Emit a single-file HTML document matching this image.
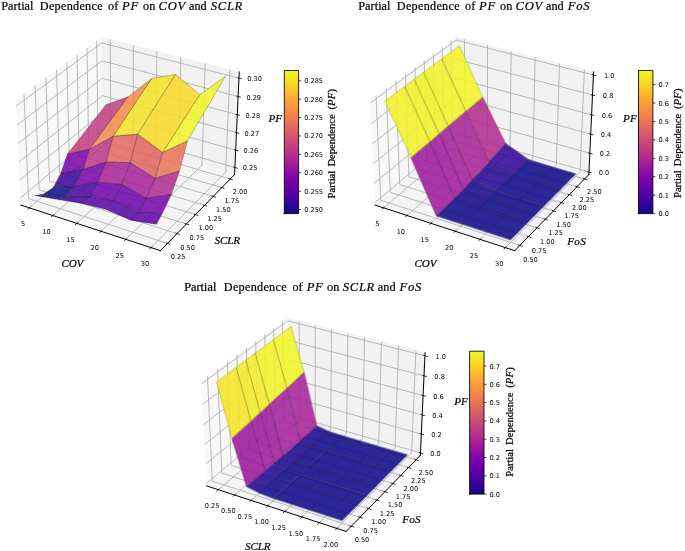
<!DOCTYPE html>
<html><head><meta charset="utf-8"><title>Partial Dependence</title>
<style>html,body{margin:0;padding:0;background:#fff}body{width:685px;height:551px;position:relative;overflow:hidden}</style>
</head><body>
<svg width="685" height="551" viewBox="0 0 1037.87 834.84" style="position:absolute;left:0;top:0">
<defs><linearGradient id="plasma" x1="0" y1="1" x2="0" y2="0"><stop offset="0.00" stop-color="#0d0887"/><stop offset="0.06" stop-color="#310597"/><stop offset="0.12" stop-color="#4c02a1"/><stop offset="0.18" stop-color="#6600a7"/><stop offset="0.25" stop-color="#7e03a8"/><stop offset="0.31" stop-color="#9511a1"/><stop offset="0.37" stop-color="#aa2395"/><stop offset="0.43" stop-color="#bc3587"/><stop offset="0.50" stop-color="#cc4778"/><stop offset="0.56" stop-color="#da5a6a"/><stop offset="0.62" stop-color="#e66c5c"/><stop offset="0.68" stop-color="#f0804e"/><stop offset="0.75" stop-color="#f89540"/><stop offset="0.81" stop-color="#fdac33"/><stop offset="0.87" stop-color="#fdc527"/><stop offset="0.93" stop-color="#f8df25"/><stop offset="1.00" stop-color="#f0f921"/></linearGradient>
<style type="text/css">*{stroke-linejoin: round; stroke-linecap: butt}</style>
</defs>
<g id="figure_1">
<g id="patch_1">
<path d="M 0 834.84 
L 1037.87 834.84 
L 1037.87 0 
L 0 0 
z
" style="fill: #ffffff"/>
</g>
<g id="patch_2">
<path d="M 3.10 403.56 
L 379.62 403.56 
L 379.62 27.04 
L 3.10 27.04 
z
" style="fill: #ffffff"/>
</g>
<g id="pane3d_1">
<g id="patch_3">
<path d="M 31.53 310.72 
L 155.87 206.50 
L 154.14 56.19 
L 23.85 151.27 
" style="fill: #f2f2f2; opacity: 0.5; stroke: #f2f2f2; stroke-linejoin: miter"/>
</g>
</g>
<g id="pane3d_2">
<g id="patch_4">
<path d="M 155.87 206.50 
L 355.39 264.49 
L 362.51 109.00 
L 154.14 56.19 
" style="fill: #e6e6e6; opacity: 0.5; stroke: #e6e6e6; stroke-linejoin: miter"/>
</g>
</g>
<g id="pane3d_3">
<g id="patch_5">
<path d="M 31.53 310.72 
L 243.03 379.79 
L 355.39 264.49 
L 155.87 206.50 
" style="fill: #ececec; opacity: 0.5; stroke: #ececec; stroke-linejoin: miter"/>
</g>
</g>
<g id="grid3d_1">
<g id="Line3DCollection_1">
<path d="M 44.48 314.95 
L 168.14 210.06 
L 166.93 59.43 
" style="fill: none; stroke: #aaaaaa; stroke-width: 1.25"/>
<path d="M 80.01 326.55 
L 201.76 219.83 
L 201.99 68.32 
" style="fill: none; stroke: #aaaaaa; stroke-width: 1.25"/>
<path d="M 116.19 338.37 
L 235.94 229.77 
L 237.66 77.36 
" style="fill: none; stroke: #aaaaaa; stroke-width: 1.25"/>
<path d="M 153.04 350.40 
L 270.71 239.88 
L 273.96 86.56 
" style="fill: none; stroke: #aaaaaa; stroke-width: 1.25"/>
<path d="M 190.57 362.66 
L 306.06 250.15 
L 310.91 95.93 
" style="fill: none; stroke: #aaaaaa; stroke-width: 1.25"/>
<path d="M 228.81 375.15 
L 342.03 260.61 
L 348.53 105.46 
" style="fill: none; stroke: #aaaaaa; stroke-width: 1.25"/>
</g>
</g>
<g id="grid3d_2">
<g id="Line3DCollection_2">
<path d="M 36.27 142.21 
L 43.34 300.82 
L 253.74 368.80 
" style="fill: none; stroke: #aaaaaa; stroke-width: 1.25"/>
<path d="M 53.06 129.95 
L 59.32 287.42 
L 268.23 353.93 
" style="fill: none; stroke: #aaaaaa; stroke-width: 1.25"/>
<path d="M 69.49 117.96 
L 74.98 274.30 
L 282.40 339.39 
" style="fill: none; stroke: #aaaaaa; stroke-width: 1.25"/>
<path d="M 85.56 106.23 
L 90.30 261.45 
L 296.26 325.16 
" style="fill: none; stroke: #aaaaaa; stroke-width: 1.25"/>
<path d="M 101.29 94.76 
L 105.32 248.87 
L 309.83 311.24 
" style="fill: none; stroke: #aaaaaa; stroke-width: 1.25"/>
<path d="M 116.68 83.52 
L 120.03 236.54 
L 323.10 297.62 
" style="fill: none; stroke: #aaaaaa; stroke-width: 1.25"/>
<path d="M 131.76 72.52 
L 134.44 224.46 
L 336.09 284.29 
" style="fill: none; stroke: #aaaaaa; stroke-width: 1.25"/>
<path d="M 146.51 61.75 
L 148.56 212.62 
L 348.81 271.23 
" style="fill: none; stroke: #aaaaaa; stroke-width: 1.25"/>
</g>
</g>
<g id="grid3d_3">
<g id="Line3DCollection_3">
<path d="M 355.87 253.83 
L 155.75 196.17 
L 31.00 299.80 
" style="fill: none; stroke: #aaaaaa; stroke-width: 1.25"/>
<path d="M 357.08 227.54 
L 155.46 170.72 
L 29.71 272.88 
" style="fill: none; stroke: #aaaaaa; stroke-width: 1.25"/>
<path d="M 358.30 200.86 
L 155.16 144.91 
L 28.39 245.53 
" style="fill: none; stroke: #aaaaaa; stroke-width: 1.25"/>
<path d="M 359.54 173.77 
L 154.86 118.72 
L 27.05 217.75 
" style="fill: none; stroke: #aaaaaa; stroke-width: 1.25"/>
<path d="M 360.80 146.26 
L 154.55 92.15 
L 25.69 189.52 
" style="fill: none; stroke: #aaaaaa; stroke-width: 1.25"/>
<path d="M 362.08 118.32 
L 154.24 65.18 
L 24.31 160.84 
" style="fill: none; stroke: #aaaaaa; stroke-width: 1.25"/>
</g>
</g>
<g id="axis3d_1">
<g id="line2d_1">
<path d="M 31.53 310.72 
L 243.03 379.79 
" style="fill: none; stroke: #000000; stroke-width: 1.5; stroke-linecap: square"/>
</g>
<g id="xtick_1">
<g id="line2d_2">
<path d="M 45.56 314.04 
L 42.32 316.78 
" style="fill: none; stroke: #000000; stroke-width: 1.2; stroke-linecap: square"/>
</g>
<g id="text_1">
<text style="font-size: 10px; font-family: 'DejaVu Sans', sans-serif; text-anchor: middle" x="35.06" y="342.21">5</text>
</g>
</g>
<g id="xtick_2">
<g id="line2d_3">
<path d="M 81.07 325.62 
L 77.88 328.42 
" style="fill: none; stroke: #000000; stroke-width: 1.2; stroke-linecap: square"/>
</g>
<g id="text_2">
<text style="font-size: 10px; font-family: 'DejaVu Sans', sans-serif; text-anchor: middle" x="70.62" y="354.03">10</text>
</g>
</g>
<g id="xtick_3">
<g id="line2d_4">
<path d="M 117.23 337.42 
L 114.10 340.27 
" style="fill: none; stroke: #000000; stroke-width: 1.2; stroke-linecap: square"/>
</g>
<g id="text_3">
<text style="font-size: 10px; font-family: 'DejaVu Sans', sans-serif; text-anchor: middle" x="106.83" y="366.07">15</text>
</g>
</g>
<g id="xtick_4">
<g id="line2d_5">
<path d="M 154.06 349.44 
L 150.98 352.34 
" style="fill: none; stroke: #000000; stroke-width: 1.2; stroke-linecap: square"/>
</g>
<g id="text_4">
<text style="font-size: 10px; font-family: 'DejaVu Sans', sans-serif; text-anchor: middle" x="143.72" y="378.33">20</text>
</g>
</g>
<g id="xtick_5">
<g id="line2d_6">
<path d="M 191.58 361.68 
L 188.55 364.63 
" style="fill: none; stroke: #000000; stroke-width: 1.2; stroke-linecap: square"/>
</g>
<g id="text_5">
<text style="font-size: 10px; font-family: 'DejaVu Sans', sans-serif; text-anchor: middle" x="181.29" y="390.82">25</text>
</g>
</g>
<g id="xtick_6">
<g id="line2d_7">
<path d="M 229.80 374.15 
L 226.83 377.16 
" style="fill: none; stroke: #000000; stroke-width: 1.2; stroke-linecap: square"/>
</g>
<g id="text_6">
<text style="font-size: 10px; font-family: 'DejaVu Sans', sans-serif; text-anchor: middle" x="219.58" y="403.55">30</text>
</g>
</g>
</g>
<g id="axis3d_2">
<g id="line2d_8">
<path d="M 355.39 264.49 
L 243.03 379.79 
" style="fill: none; stroke: #000000; stroke-width: 1.5; stroke-linecap: square"/>
</g>
<g id="xtick_7">
<g id="line2d_9">
<path d="M 251.97 368.23 
L 257.29 369.95 
" style="fill: none; stroke: #000000; stroke-width: 1.2; stroke-linecap: square"/>
</g>
<g id="text_7">
<text style="font-size: 10px; font-family: 'DejaVu Sans', sans-serif; text-anchor: middle" x="269.83" y="393.17">0.25</text>
</g>
</g>
<g id="xtick_8">
<g id="line2d_10">
<path d="M 266.47 353.37 
L 271.75 355.05 
" style="fill: none; stroke: #000000; stroke-width: 1.2; stroke-linecap: square"/>
</g>
<g id="text_8">
<text style="font-size: 10px; font-family: 'DejaVu Sans', sans-serif; text-anchor: middle" x="284.15" y="378.10">0.50</text>
</g>
</g>
<g id="xtick_9">
<g id="line2d_11">
<path d="M 280.66 338.84 
L 285.90 340.49 
" style="fill: none; stroke: #000000; stroke-width: 1.2; stroke-linecap: square"/>
</g>
<g id="text_9">
<text style="font-size: 10px; font-family: 'DejaVu Sans', sans-serif; text-anchor: middle" x="298.15" y="363.37">0.75</text>
</g>
</g>
<g id="xtick_10">
<g id="line2d_12">
<path d="M 294.53 324.63 
L 299.73 326.24 
" style="fill: none; stroke: #000000; stroke-width: 1.2; stroke-linecap: square"/>
</g>
<g id="text_10">
<text style="font-size: 10px; font-family: 'DejaVu Sans', sans-serif; text-anchor: middle" x="311.85" y="348.96">1.00</text>
</g>
</g>
<g id="xtick_11">
<g id="line2d_13">
<path d="M 308.11 310.72 
L 313.27 312.29 
" style="fill: none; stroke: #000000; stroke-width: 1.2; stroke-linecap: square"/>
</g>
<g id="text_11">
<text style="font-size: 10px; font-family: 'DejaVu Sans', sans-serif; text-anchor: middle" x="325.25" y="334.86">1.25</text>
</g>
</g>
<g id="xtick_12">
<g id="line2d_14">
<path d="M 321.39 297.11 
L 326.52 298.65 
" style="fill: none; stroke: #000000; stroke-width: 1.2; stroke-linecap: square"/>
</g>
<g id="text_12">
<text style="font-size: 10px; font-family: 'DejaVu Sans', sans-serif; text-anchor: middle" x="338.37" y="321.06">1.50</text>
</g>
</g>
<g id="xtick_13">
<g id="line2d_15">
<path d="M 334.40 283.79 
L 339.48 285.30 
" style="fill: none; stroke: #000000; stroke-width: 1.2; stroke-linecap: square"/>
</g>
<g id="text_13">
<text style="font-size: 10px; font-family: 'DejaVu Sans', sans-serif; text-anchor: middle" x="351.21" y="307.55">1.75</text>
</g>
</g>
<g id="xtick_14">
<g id="line2d_16">
<path d="M 347.13 270.74 
L 352.18 272.22 
" style="fill: none; stroke: #000000; stroke-width: 1.2; stroke-linecap: square"/>
</g>
<g id="text_14">
<text style="font-size: 10px; font-family: 'DejaVu Sans', sans-serif; text-anchor: middle" x="363.77" y="294.32">2.00</text>
</g>
</g>
</g>
<g id="axis3d_3">
<g id="line2d_17">
<path d="M 355.39 264.49 
L 362.51 109.00 
" style="fill: none; stroke: #000000; stroke-width: 1.5; stroke-linecap: square"/>
</g>
<g id="xtick_15">
<g id="line2d_18">
<path d="M 354.19 253.34 
L 359.24 254.80 
" style="fill: none; stroke: #000000; stroke-width: 1.2; stroke-linecap: square"/>
</g>
<g id="text_15">
<text style="font-size: 10px; font-family: 'DejaVu Sans', sans-serif; text-anchor: middle" x="378.80" y="258.18">0.25</text>
</g>
</g>
<g id="xtick_16">
<g id="line2d_19">
<path d="M 355.38 227.07 
L 360.47 228.50 
" style="fill: none; stroke: #000000; stroke-width: 1.2; stroke-linecap: square"/>
</g>
<g id="text_16">
<text style="font-size: 10px; font-family: 'DejaVu Sans', sans-serif; text-anchor: middle" x="380.17" y="231.94">0.26</text>
</g>
</g>
<g id="xtick_17">
<g id="line2d_20">
<path d="M 356.59 200.39 
L 361.72 201.80 
" style="fill: none; stroke: #000000; stroke-width: 1.2; stroke-linecap: square"/>
</g>
<g id="text_17">
<text style="font-size: 10px; font-family: 'DejaVu Sans', sans-serif; text-anchor: middle" x="381.57" y="205.31">0.27</text>
</g>
</g>
<g id="xtick_18">
<g id="line2d_21">
<path d="M 357.82 173.31 
L 362.98 174.70 
" style="fill: none; stroke: #000000; stroke-width: 1.2; stroke-linecap: square"/>
</g>
<g id="text_18">
<text style="font-size: 10px; font-family: 'DejaVu Sans', sans-serif; text-anchor: middle" x="382.98" y="178.27">0.28</text>
</g>
</g>
<g id="xtick_19">
<g id="line2d_22">
<path d="M 359.07 145.80 
L 364.27 147.17 
" style="fill: none; stroke: #000000; stroke-width: 1.2; stroke-linecap: square"/>
</g>
<g id="text_19">
<text style="font-size: 10px; font-family: 'DejaVu Sans', sans-serif; text-anchor: middle" x="384.42" y="150.81">0.29</text>
</g>
</g>
<g id="xtick_20">
<g id="line2d_23">
<path d="M 360.33 117.87 
L 365.58 119.21 
" style="fill: none; stroke: #000000; stroke-width: 1.2; stroke-linecap: square"/>
</g>
<g id="text_20">
<text style="font-size: 10px; font-family: 'DejaVu Sans', sans-serif; text-anchor: middle" x="385.88" y="122.92">0.30</text>
</g>
</g>
</g>
<g id="axes_1">
<g id="Poly3DCollection_1">
<path d="M 102.15 233.45 
L 135.61 226.00 
L 194.15 146.52 
L 160.56 158.80 
z
" clip-path="url(#p76bec759b3)" style="fill: #c23c81; fill-opacity: 0.85; stroke: #000000; stroke-opacity: 0.7; stroke-width: 0.5"/>
<path d="M 135.61 226.00 
L 171.72 206.57 
L 230.37 118.52 
L 194.15 146.52 
z
" clip-path="url(#p76bec759b3)" style="fill: #f58b47; fill-opacity: 0.85; stroke: #000000; stroke-opacity: 0.7; stroke-width: 0.5"/>
<path d="M 92.22 262.39 
L 125.77 256.93 
L 135.61 226.00 
L 102.15 233.45 
z
" clip-path="url(#p76bec759b3)" style="fill: #7501a8; fill-opacity: 0.85; stroke: #000000; stroke-opacity: 0.7; stroke-width: 0.5"/>
<path d="M 80.60 284.28 
L 112.43 282.51 
L 125.77 256.93 
L 92.22 262.39 
z
" clip-path="url(#p76bec759b3)" style="fill: #350498; fill-opacity: 0.85; stroke: #000000; stroke-opacity: 0.7; stroke-width: 0.5"/>
<path d="M 65.57 294.18 
L 97.36 298.28 
L 112.43 282.51 
L 80.60 284.28 
z
" clip-path="url(#p76bec759b3)" style="fill: #0d0887; fill-opacity: 0.85; stroke: #000000; stroke-opacity: 0.7; stroke-width: 0.5"/>
<path d="M 171.72 206.57 
L 208.63 203.37 
L 265.95 112.67 
L 230.37 118.52 
z
" clip-path="url(#p76bec759b3)" style="fill: #f7e225; fill-opacity: 0.85; stroke: #000000; stroke-opacity: 0.7; stroke-width: 0.5"/>
<path d="M 125.77 256.93 
L 160.74 245.54 
L 171.72 206.57 
L 135.61 226.00 
z
" clip-path="url(#p76bec759b3)" style="fill: #bb3488; fill-opacity: 0.85; stroke: #000000; stroke-opacity: 0.7; stroke-width: 0.5"/>
<path d="M 112.43 282.51 
L 148.40 276.10 
L 160.74 245.54 
L 125.77 256.93 
z
" clip-path="url(#p76bec759b3)" style="fill: #7701a8; fill-opacity: 0.85; stroke: #000000; stroke-opacity: 0.7; stroke-width: 0.5"/>
<path d="M 52.65 296.06 
L 88.16 302.41 
L 97.36 298.28 
L 65.57 294.18 
z
" clip-path="url(#p76bec759b3)" style="fill: #19068c; fill-opacity: 0.85; stroke: #000000; stroke-opacity: 0.7; stroke-width: 0.5"/>
<path d="M 208.63 203.37 
L 246.30 231.23 
L 302.73 143.45 
L 265.95 112.67 
z
" clip-path="url(#p76bec759b3)" style="fill: #fada24; fill-opacity: 0.85; stroke: #000000; stroke-opacity: 0.7; stroke-width: 0.5"/>
<path d="M 97.36 298.28 
L 137.08 298.34 
L 148.40 276.10 
L 112.43 282.51 
z
" clip-path="url(#p76bec759b3)" style="fill: #44039e; fill-opacity: 0.85; stroke: #000000; stroke-opacity: 0.7; stroke-width: 0.5"/>
<path d="M 160.74 245.54 
L 197.16 246.32 
L 208.63 203.37 
L 171.72 206.57 
z
" clip-path="url(#p76bec759b3)" style="fill: #e4695e; fill-opacity: 0.85; stroke: #000000; stroke-opacity: 0.7; stroke-width: 0.5"/>
<path d="M 88.16 302.41 
L 124.27 308.30 
L 137.08 298.34 
L 97.36 298.28 
z
" clip-path="url(#p76bec759b3)" style="fill: #3e049c; fill-opacity: 0.85; stroke: #000000; stroke-opacity: 0.7; stroke-width: 0.5"/>
<path d="M 148.40 276.10 
L 184.64 279.66 
L 197.16 246.32 
L 160.74 245.54 
z
" clip-path="url(#p76bec759b3)" style="fill: #a72197; fill-opacity: 0.85; stroke: #000000; stroke-opacity: 0.7; stroke-width: 0.5"/>
<path d="M 246.30 231.23 
L 283.98 213.54 
L 341.56 115.56 
L 302.73 143.45 
z
" clip-path="url(#p76bec759b3)" style="fill: #f1f525; fill-opacity: 0.85; stroke: #000000; stroke-opacity: 0.7; stroke-width: 0.5"/>
<path d="M 137.08 298.34 
L 171.93 304.43 
L 184.64 279.66 
L 148.40 276.10 
z
" clip-path="url(#p76bec759b3)" style="fill: #6e00a8; fill-opacity: 0.85; stroke: #000000; stroke-opacity: 0.7; stroke-width: 0.5"/>
<path d="M 197.16 246.32 
L 235.12 270.33 
L 246.30 231.23 
L 208.63 203.37 
z
" clip-path="url(#p76bec759b3)" style="fill: #e16462; fill-opacity: 0.85; stroke: #000000; stroke-opacity: 0.7; stroke-width: 0.5"/>
<path d="M 184.64 279.66 
L 221.80 300.38 
L 235.12 270.33 
L 197.16 246.32 
z
" clip-path="url(#p76bec759b3)" style="fill: #a51f99; fill-opacity: 0.85; stroke: #000000; stroke-opacity: 0.7; stroke-width: 0.5"/>
<path d="M 124.27 308.30 
L 159.86 317.18 
L 171.93 304.43 
L 137.08 298.34 
z
" clip-path="url(#p76bec759b3)" style="fill: #5601a4; fill-opacity: 0.85; stroke: #000000; stroke-opacity: 0.7; stroke-width: 0.5"/>
<path d="M 171.93 304.43 
L 209.72 322.58 
L 221.80 300.38 
L 184.64 279.66 
z
" clip-path="url(#p76bec759b3)" style="fill: #6c00a8; fill-opacity: 0.85; stroke: #000000; stroke-opacity: 0.7; stroke-width: 0.5"/>
<path d="M 235.12 270.33 
L 272.05 259.05 
L 283.98 213.54 
L 246.30 231.23 
z
" clip-path="url(#p76bec759b3)" style="fill: #ea7457; fill-opacity: 0.85; stroke: #000000; stroke-opacity: 0.7; stroke-width: 0.5"/>
<path d="M 221.80 300.38 
L 259.71 294.61 
L 272.05 259.05 
L 235.12 270.33 
z
" clip-path="url(#p76bec759b3)" style="fill: #b12a90; fill-opacity: 0.85; stroke: #000000; stroke-opacity: 0.7; stroke-width: 0.5"/>
<path d="M 159.86 317.18 
L 199.10 334.05 
L 209.72 322.58 
L 171.93 304.43 
z
" clip-path="url(#p76bec759b3)" style="fill: #5302a3; fill-opacity: 0.85; stroke: #000000; stroke-opacity: 0.7; stroke-width: 0.5"/>
<path d="M 209.72 322.58 
L 245.79 323.45 
L 259.71 294.61 
L 221.80 300.38 
z
" clip-path="url(#p76bec759b3)" style="fill: #7701a8; fill-opacity: 0.85; stroke: #000000; stroke-opacity: 0.7; stroke-width: 0.5"/>
<path d="M 199.10 334.05 
L 236.97 339.74 
L 245.79 323.45 
L 209.72 322.58 
z
" clip-path="url(#p76bec759b3)" style="fill: #5901a5; fill-opacity: 0.85; stroke: #000000; stroke-opacity: 0.7; stroke-width: 0.5"/>
</g>
</g>
<g id="axes_2">
<g id="patch_6">
<path d="M 430.75 323.63 
L 452.42 323.63 
L 452.42 106.81 
L 430.75 106.81 
z
" style="fill: #ffffff"/>
</g>
<rect x="430.75" y="106.81" width="21.66" height="216.81" fill="url(#plasma)"/>
<g id="matplotlib.axis_1"/>
<g id="matplotlib.axis_2">
<g id="ytick_1">
<g id="line2d_24">
<defs>
<path id="mfd3b07771e" d="M 0 0 
L 3.8 0 
" style="stroke: #000000; stroke-width: 1.1"/>
</defs>
<g>
<use href="#mfd3b07771e" x="452.42" y="317.50" style="stroke: #000000; stroke-width: 1.1"/>
</g>
</g>
<g id="text_21">
<text style="font-size: 10px; font-family: 'DejaVu Sans', sans-serif; text-anchor: start" x="460.82" y="321.30">0.250</text>
</g>
</g>
<g id="ytick_2">
<g id="line2d_25">
<g>
<use href="#mfd3b07771e" x="452.42" y="289.63" style="stroke: #000000; stroke-width: 1.1"/>
</g>
</g>
<g id="text_22">
<text style="font-size: 10px; font-family: 'DejaVu Sans', sans-serif; text-anchor: start" x="460.82" y="293.43">0.255</text>
</g>
</g>
<g id="ytick_3">
<g id="line2d_26">
<g>
<use href="#mfd3b07771e" x="452.42" y="261.76" style="stroke: #000000; stroke-width: 1.1"/>
</g>
</g>
<g id="text_23">
<text style="font-size: 10px; font-family: 'DejaVu Sans', sans-serif; text-anchor: start" x="460.82" y="265.56">0.260</text>
</g>
</g>
<g id="ytick_4">
<g id="line2d_27">
<g>
<use href="#mfd3b07771e" x="452.42" y="233.89" style="stroke: #000000; stroke-width: 1.1"/>
</g>
</g>
<g id="text_24">
<text style="font-size: 10px; font-family: 'DejaVu Sans', sans-serif; text-anchor: start" x="460.82" y="237.69">0.265</text>
</g>
</g>
<g id="ytick_5">
<g id="line2d_28">
<g>
<use href="#mfd3b07771e" x="452.42" y="206.03" style="stroke: #000000; stroke-width: 1.1"/>
</g>
</g>
<g id="text_25">
<text style="font-size: 10px; font-family: 'DejaVu Sans', sans-serif; text-anchor: start" x="460.82" y="209.82">0.270</text>
</g>
</g>
<g id="ytick_6">
<g id="line2d_29">
<g>
<use href="#mfd3b07771e" x="452.42" y="178.16" style="stroke: #000000; stroke-width: 1.1"/>
</g>
</g>
<g id="text_26">
<text style="font-size: 10px; font-family: 'DejaVu Sans', sans-serif; text-anchor: start" x="460.82" y="181.96">0.275</text>
</g>
</g>
<g id="ytick_7">
<g id="line2d_30">
<g>
<use href="#mfd3b07771e" x="452.42" y="150.29" style="stroke: #000000; stroke-width: 1.1"/>
</g>
</g>
<g id="text_27">
<text style="font-size: 10px; font-family: 'DejaVu Sans', sans-serif; text-anchor: start" x="460.82" y="154.09">0.280</text>
</g>
</g>
<g id="ytick_8">
<g id="line2d_31">
<g>
<use href="#mfd3b07771e" x="452.42" y="122.42" style="stroke: #000000; stroke-width: 1.1"/>
</g>
</g>
<g id="text_28">
<text style="font-size: 10px; font-family: 'DejaVu Sans', sans-serif; text-anchor: start" x="460.82" y="126.22">0.285</text>
</g>
</g>
</g>
<g id="LineCollection_1"/>
<g id="patch_7">
<path d="M 430.75 323.63 
L 441.59 323.63 
L 452.42 323.63 
L 452.42 106.81 
L 441.59 106.81 
L 430.75 106.81 
L 430.75 323.63 
z
" style="fill: none; stroke: #000000; stroke-width: 1.3; stroke-linejoin: miter; stroke-linecap: square"/>
</g>
</g>
<g id="patch_8">
<path d="M 539.92 403.56 
L 916.43 403.56 
L 916.43 27.04 
L 539.92 27.04 
z
" style="fill: #ffffff"/>
</g>
<g id="pane3d_4">
<g id="patch_9">
<path d="M 568.35 310.72 
L 692.69 206.50 
L 690.96 56.19 
L 560.67 151.27 
" style="fill: #f2f2f2; opacity: 0.5; stroke: #f2f2f2; stroke-linejoin: miter"/>
</g>
</g>
<g id="pane3d_5">
<g id="patch_10">
<path d="M 692.69 206.50 
L 892.20 264.49 
L 899.32 109.00 
L 690.96 56.19 
" style="fill: #e6e6e6; opacity: 0.5; stroke: #e6e6e6; stroke-linejoin: miter"/>
</g>
</g>
<g id="pane3d_6">
<g id="patch_11">
<path d="M 568.35 310.72 
L 779.85 379.79 
L 892.20 264.49 
L 692.69 206.50 
" style="fill: #ececec; opacity: 0.5; stroke: #ececec; stroke-linejoin: miter"/>
</g>
</g>
<g id="grid3d_4">
<g id="Line3DCollection_4">
<path d="M 581.16 314.90 
L 704.82 210.02 
L 703.61 59.40 
" style="fill: none; stroke: #aaaaaa; stroke-width: 1.25"/>
<path d="M 616.73 326.52 
L 738.48 219.81 
L 738.71 68.29 
" style="fill: none; stroke: #aaaaaa; stroke-width: 1.25"/>
<path d="M 652.95 338.35 
L 772.71 229.76 
L 774.42 77.35 
" style="fill: none; stroke: #aaaaaa; stroke-width: 1.25"/>
<path d="M 689.84 350.40 
L 807.51 239.87 
L 810.77 86.56 
" style="fill: none; stroke: #aaaaaa; stroke-width: 1.25"/>
<path d="M 727.42 362.67 
L 842.91 250.16 
L 847.76 95.94 
" style="fill: none; stroke: #aaaaaa; stroke-width: 1.25"/>
<path d="M 765.71 375.18 
L 878.92 260.63 
L 885.42 105.48 
" style="fill: none; stroke: #aaaaaa; stroke-width: 1.25"/>
</g>
</g>
<g id="grid3d_5">
<g id="Line3DCollection_5">
<path d="M 569.68 144.69 
L 576.92 303.54 
L 787.62 371.82 
" style="fill: none; stroke: #aaaaaa; stroke-width: 1.25"/>
<path d="M 584.88 133.60 
L 591.38 291.41 
L 800.74 358.36 
" style="fill: none; stroke: #aaaaaa; stroke-width: 1.25"/>
<path d="M 599.78 122.73 
L 605.57 279.52 
L 813.59 345.17 
" style="fill: none; stroke: #aaaaaa; stroke-width: 1.25"/>
<path d="M 614.39 112.07 
L 619.50 267.84 
L 826.19 332.24 
" style="fill: none; stroke: #aaaaaa; stroke-width: 1.25"/>
<path d="M 628.71 101.61 
L 633.17 256.39 
L 838.54 319.56 
" style="fill: none; stroke: #aaaaaa; stroke-width: 1.25"/>
<path d="M 642.76 91.36 
L 646.58 245.14 
L 850.66 307.13 
" style="fill: none; stroke: #aaaaaa; stroke-width: 1.25"/>
<path d="M 656.54 81.30 
L 659.75 234.10 
L 862.54 294.93 
" style="fill: none; stroke: #aaaaaa; stroke-width: 1.25"/>
<path d="M 670.06 71.44 
L 672.68 223.26 
L 874.19 282.97 
" style="fill: none; stroke: #aaaaaa; stroke-width: 1.25"/>
<path d="M 683.33 61.75 
L 685.38 212.62 
L 885.63 271.23 
" style="fill: none; stroke: #aaaaaa; stroke-width: 1.25"/>
</g>
</g>
<g id="grid3d_6">
<g id="Line3DCollection_6">
<path d="M 892.38 260.68 
L 692.64 202.81 
L 568.16 306.82 
" style="fill: none; stroke: #aaaaaa; stroke-width: 1.25"/>
<path d="M 893.68 232.23 
L 692.33 175.26 
L 566.76 277.68 
" style="fill: none; stroke: #aaaaaa; stroke-width: 1.25"/>
<path d="M 895.01 203.31 
L 692.01 147.28 
L 565.33 248.04 
" style="fill: none; stroke: #aaaaaa; stroke-width: 1.25"/>
<path d="M 896.35 173.91 
L 691.68 118.86 
L 563.88 217.89 
" style="fill: none; stroke: #aaaaaa; stroke-width: 1.25"/>
<path d="M 897.72 144.01 
L 691.35 89.98 
L 562.40 187.22 
" style="fill: none; stroke: #aaaaaa; stroke-width: 1.25"/>
<path d="M 899.11 113.61 
L 691.01 60.63 
L 560.90 156.00 
" style="fill: none; stroke: #aaaaaa; stroke-width: 1.25"/>
</g>
</g>
<g id="axis3d_4">
<g id="line2d_32">
<path d="M 568.35 310.72 
L 779.85 379.79 
" style="fill: none; stroke: #000000; stroke-width: 1.5; stroke-linecap: square"/>
</g>
<g id="xtick_21">
<g id="line2d_33">
<path d="M 582.24 313.99 
L 579.00 316.73 
" style="fill: none; stroke: #000000; stroke-width: 1.2; stroke-linecap: square"/>
</g>
<g id="text_29">
<text style="font-size: 10px; font-family: 'DejaVu Sans', sans-serif; text-anchor: middle" x="571.73" y="342.17">5</text>
</g>
</g>
<g id="xtick_22">
<g id="line2d_34">
<path d="M 617.79 325.59 
L 614.60 328.38 
" style="fill: none; stroke: #000000; stroke-width: 1.2; stroke-linecap: square"/>
</g>
<g id="text_30">
<text style="font-size: 10px; font-family: 'DejaVu Sans', sans-serif; text-anchor: middle" x="607.34" y="354.00">10</text>
</g>
</g>
<g id="xtick_23">
<g id="line2d_35">
<path d="M 653.99 337.40 
L 650.86 340.25 
" style="fill: none; stroke: #000000; stroke-width: 1.2; stroke-linecap: square"/>
</g>
<g id="text_31">
<text style="font-size: 10px; font-family: 'DejaVu Sans', sans-serif; text-anchor: middle" x="643.59" y="366.05">15</text>
</g>
</g>
<g id="xtick_24">
<g id="line2d_36">
<path d="M 690.87 349.43 
L 687.78 352.33 
" style="fill: none; stroke: #000000; stroke-width: 1.2; stroke-linecap: square"/>
</g>
<g id="text_32">
<text style="font-size: 10px; font-family: 'DejaVu Sans', sans-serif; text-anchor: middle" x="680.52" y="378.33">20</text>
</g>
</g>
<g id="xtick_25">
<g id="line2d_37">
<path d="M 728.43 361.69 
L 725.40 364.64 
" style="fill: none; stroke: #000000; stroke-width: 1.2; stroke-linecap: square"/>
</g>
<g id="text_33">
<text style="font-size: 10px; font-family: 'DejaVu Sans', sans-serif; text-anchor: middle" x="718.14" y="390.83">25</text>
</g>
</g>
<g id="xtick_26">
<g id="line2d_38">
<path d="M 766.70 374.18 
L 763.72 377.18 
" style="fill: none; stroke: #000000; stroke-width: 1.2; stroke-linecap: square"/>
</g>
<g id="text_34">
<text style="font-size: 10px; font-family: 'DejaVu Sans', sans-serif; text-anchor: middle" x="756.47" y="403.58">30</text>
</g>
</g>
</g>
<g id="axis3d_5">
<g id="line2d_39">
<path d="M 892.20 264.49 
L 779.85 379.79 
" style="fill: none; stroke: #000000; stroke-width: 1.5; stroke-linecap: square"/>
</g>
<g id="xtick_27">
<g id="line2d_40">
<path d="M 785.85 371.24 
L 791.18 372.97 
" style="fill: none; stroke: #000000; stroke-width: 1.2; stroke-linecap: square"/>
</g>
<g id="text_35">
<text style="font-size: 10px; font-family: 'DejaVu Sans', sans-serif; text-anchor: middle" x="803.75" y="396.22">0.50</text>
</g>
</g>
<g id="xtick_28">
<g id="line2d_41">
<path d="M 798.97 357.79 
L 804.27 359.49 
" style="fill: none; stroke: #000000; stroke-width: 1.2; stroke-linecap: square"/>
</g>
<g id="text_36">
<text style="font-size: 10px; font-family: 'DejaVu Sans', sans-serif; text-anchor: middle" x="816.71" y="382.59">0.75</text>
</g>
</g>
<g id="xtick_29">
<g id="line2d_42">
<path d="M 811.84 344.61 
L 817.10 346.27 
" style="fill: none; stroke: #000000; stroke-width: 1.2; stroke-linecap: square"/>
</g>
<g id="text_37">
<text style="font-size: 10px; font-family: 'DejaVu Sans', sans-serif; text-anchor: middle" x="829.41" y="369.22">1.00</text>
</g>
</g>
<g id="xtick_30">
<g id="line2d_43">
<path d="M 824.45 331.69 
L 829.67 333.32 
" style="fill: none; stroke: #000000; stroke-width: 1.2; stroke-linecap: square"/>
</g>
<g id="text_38">
<text style="font-size: 10px; font-family: 'DejaVu Sans', sans-serif; text-anchor: middle" x="841.86" y="356.12">1.25</text>
</g>
</g>
<g id="xtick_31">
<g id="line2d_44">
<path d="M 836.81 319.03 
L 842.00 320.62 
" style="fill: none; stroke: #000000; stroke-width: 1.2; stroke-linecap: square"/>
</g>
<g id="text_39">
<text style="font-size: 10px; font-family: 'DejaVu Sans', sans-serif; text-anchor: middle" x="854.06" y="343.28">1.50</text>
</g>
</g>
<g id="xtick_32">
<g id="line2d_45">
<path d="M 848.94 306.61 
L 854.09 308.17 
" style="fill: none; stroke: #000000; stroke-width: 1.2; stroke-linecap: square"/>
</g>
<g id="text_40">
<text style="font-size: 10px; font-family: 'DejaVu Sans', sans-serif; text-anchor: middle" x="866.03" y="330.69">1.75</text>
</g>
</g>
<g id="xtick_33">
<g id="line2d_46">
<path d="M 860.83 294.42 
L 865.95 295.96 
" style="fill: none; stroke: #000000; stroke-width: 1.2; stroke-linecap: square"/>
</g>
<g id="text_41">
<text style="font-size: 10px; font-family: 'DejaVu Sans', sans-serif; text-anchor: middle" x="877.77" y="318.33">2.00</text>
</g>
</g>
<g id="xtick_34">
<g id="line2d_47">
<path d="M 872.50 282.47 
L 877.58 283.98 
" style="fill: none; stroke: #000000; stroke-width: 1.2; stroke-linecap: square"/>
</g>
<g id="text_42">
<text style="font-size: 10px; font-family: 'DejaVu Sans', sans-serif; text-anchor: middle" x="889.29" y="306.21">2.25</text>
</g>
</g>
<g id="xtick_35">
<g id="line2d_48">
<path d="M 883.95 270.74 
L 889.00 272.22 
" style="fill: none; stroke: #000000; stroke-width: 1.2; stroke-linecap: square"/>
</g>
<g id="text_43">
<text style="font-size: 10px; font-family: 'DejaVu Sans', sans-serif; text-anchor: middle" x="900.59" y="294.32">2.50</text>
</g>
</g>
</g>
<g id="axis3d_6">
<g id="line2d_49">
<path d="M 892.20 264.49 
L 899.32 109.00 
" style="fill: none; stroke: #000000; stroke-width: 1.5; stroke-linecap: square"/>
</g>
<g id="xtick_36">
<g id="line2d_50">
<path d="M 890.70 260.20 
L 895.73 261.66 
" style="fill: none; stroke: #000000; stroke-width: 1.2; stroke-linecap: square"/>
</g>
<g id="text_44">
<text style="font-size: 10px; font-family: 'DejaVu Sans', sans-serif; text-anchor: middle" x="915.26" y="265.03">0.0</text>
</g>
</g>
<g id="xtick_37">
<g id="line2d_51">
<path d="M 891.99 231.75 
L 897.07 233.19 
" style="fill: none; stroke: #000000; stroke-width: 1.2; stroke-linecap: square"/>
</g>
<g id="text_45">
<text style="font-size: 10px; font-family: 'DejaVu Sans', sans-serif; text-anchor: middle" x="916.75" y="236.62">0.2</text>
</g>
</g>
<g id="xtick_38">
<g id="line2d_52">
<path d="M 893.30 202.84 
L 898.42 204.25 
" style="fill: none; stroke: #000000; stroke-width: 1.2; stroke-linecap: square"/>
</g>
<g id="text_46">
<text style="font-size: 10px; font-family: 'DejaVu Sans', sans-serif; text-anchor: middle" x="918.26" y="207.75">0.4</text>
</g>
</g>
<g id="xtick_39">
<g id="line2d_53">
<path d="M 894.63 173.45 
L 899.80 174.83 
" style="fill: none; stroke: #000000; stroke-width: 1.2; stroke-linecap: square"/>
</g>
<g id="text_47">
<text style="font-size: 10px; font-family: 'DejaVu Sans', sans-serif; text-anchor: middle" x="919.79" y="178.41">0.6</text>
</g>
</g>
<g id="xtick_40">
<g id="line2d_54">
<path d="M 895.99 143.56 
L 901.19 144.92 
" style="fill: none; stroke: #000000; stroke-width: 1.2; stroke-linecap: square"/>
</g>
<g id="text_48">
<text style="font-size: 10px; font-family: 'DejaVu Sans', sans-serif; text-anchor: middle" x="921.36" y="148.56">0.8</text>
</g>
</g>
<g id="xtick_41">
<g id="line2d_55">
<path d="M 897.36 113.16 
L 902.62 114.50 
" style="fill: none; stroke: #000000; stroke-width: 1.2; stroke-linecap: square"/>
</g>
<g id="text_49">
<text style="font-size: 10px; font-family: 'DejaVu Sans', sans-serif; text-anchor: middle" x="922.94" y="118.22">1.0</text>
</g>
</g>
</g>
<g id="axes_3">
<g id="Poly3DCollection_2"><g opacity="0.87"><path d="M 741.05 245.10 
L 776.45 264.71 
L 800.70 241.74 
L 765.86 217.30 
z
" clip-path="url(#pf161c5d38a)" style="fill: #2f0596; stroke: #2f0596; stroke-width: 0.7"/>
<path d="M 705.64 168.54 
L 741.05 245.10 
L 765.86 217.30 
L 731.29 147.25 
z
" clip-path="url(#pf161c5d38a)" style="fill: #b12a90; stroke: #b12a90; stroke-width: 0.7"/>
<path d="M 776.45 264.71 
L 812.48 276.06 
L 836.26 252.96 
L 800.70 241.74 
z
" clip-path="url(#pf161c5d38a)" style="fill: #0d0887; stroke: #0d0887; stroke-width: 0.7"/>
<path d="M 669.47 89.20 
L 705.64 168.54 
L 731.29 147.25 
L 696.07 69.47 
z
" clip-path="url(#pf161c5d38a)" style="fill: #f1f426; stroke: #f1f426; stroke-width: 0.7"/>
<path d="M 812.48 276.06 
L 849.15 287.02 
L 872.45 263.52 
L 836.26 252.96 
z
" clip-path="url(#pf161c5d38a)" style="fill: #0d0887; stroke: #0d0887; stroke-width: 0.7"/>
<path d="M 715.38 272.15 
L 751.28 288.56 
L 776.45 264.71 
L 741.05 245.10 
z
" clip-path="url(#pf161c5d38a)" style="fill: #240691; stroke: #240691; stroke-width: 0.7"/>
<path d="M 679.01 191.09 
L 715.38 272.15 
L 741.05 245.10 
L 705.64 168.54 
z
" clip-path="url(#pf161c5d38a)" style="fill: #a82296; stroke: #a82296; stroke-width: 0.7"/>
<path d="M 751.28 288.56 
L 787.78 300.04 
L 812.48 276.06 
L 776.45 264.71 
z
" clip-path="url(#pf161c5d38a)" style="fill: #0d0887; stroke: #0d0887; stroke-width: 0.7"/>
<path d="M 641.84 109.70 
L 679.01 191.09 
L 705.64 168.54 
L 669.47 89.20 
z
" clip-path="url(#pf161c5d38a)" style="fill: #f2f227; stroke: #f2f227; stroke-width: 0.7"/>
<path d="M 702.21 287.19 
L 738.33 300.98 
L 751.28 288.56 
L 715.38 272.15 
z
" clip-path="url(#pf161c5d38a)" style="fill: #19068c; stroke: #19068c; stroke-width: 0.7"/>
<path d="M 665.31 202.77 
L 702.21 287.19 
L 715.38 272.15 
L 679.01 191.09 
z
" clip-path="url(#pf161c5d38a)" style="fill: #a31e9a; stroke: #a31e9a; stroke-width: 0.7"/>
<path d="M 787.78 300.04 
L 824.95 311.44 
L 849.15 287.02 
L 812.48 276.06 
z
" clip-path="url(#pf161c5d38a)" style="fill: #0d0887; stroke: #0d0887; stroke-width: 0.7"/>
<path d="M 738.33 300.98 
L 775.07 312.39 
L 787.78 300.04 
L 751.28 288.56 
z
" clip-path="url(#pf161c5d38a)" style="fill: #0d0887; stroke: #0d0887; stroke-width: 0.7"/>
<path d="M 688.78 300.47 
L 725.12 313.34 
L 738.33 300.98 
L 702.21 287.19 
z
" clip-path="url(#pf161c5d38a)" style="fill: #130789; stroke: #130789; stroke-width: 0.7"/>
<path d="M 651.35 214.67 
L 688.78 300.47 
L 702.21 287.19 
L 665.31 202.77 
z
" clip-path="url(#pf161c5d38a)" style="fill: #a01a9c; stroke: #a01a9c; stroke-width: 0.7"/>
<path d="M 627.61 120.26 
L 665.31 202.77 
L 679.01 191.09 
L 641.84 109.70 
z
" clip-path="url(#pf161c5d38a)" style="fill: #f2f227; stroke: #f2f227; stroke-width: 0.7"/>
<path d="M 775.07 312.39 
L 812.49 324.01 
L 824.95 311.44 
L 787.78 300.04 
z
" clip-path="url(#pf161c5d38a)" style="fill: #0d0887; stroke: #0d0887; stroke-width: 0.7"/>
<path d="M 725.12 313.34 
L 762.11 324.98 
L 775.07 312.39 
L 738.33 300.98 
z
" clip-path="url(#pf161c5d38a)" style="fill: #0d0887; stroke: #0d0887; stroke-width: 0.7"/>
<path d="M 613.10 131.02 
L 651.35 214.67 
L 665.31 202.77 
L 627.61 120.26 
z
" clip-path="url(#pf161c5d38a)" style="fill: #f3f027; stroke: #f3f027; stroke-width: 0.7"/>
<path d="M 661.13 326.92 
L 697.93 338.81 
L 725.12 313.34 
L 688.78 300.47 
z
" clip-path="url(#pf161c5d38a)" style="fill: #0d0887; stroke: #0d0887; stroke-width: 0.7"/>
<path d="M 622.58 238.87 
L 661.13 326.92 
L 688.78 300.47 
L 651.35 214.67 
z
" clip-path="url(#pf161c5d38a)" style="fill: #9d189d; stroke: #9d189d; stroke-width: 0.7"/>
<path d="M 762.11 324.98 
L 799.78 336.83 
L 812.49 324.01 
L 775.07 312.39 
z
" clip-path="url(#pf161c5d38a)" style="fill: #0d0887; stroke: #0d0887; stroke-width: 0.7"/>
<path d="M 697.93 338.81 
L 735.41 350.92 
L 762.11 324.98 
L 725.12 313.34 
z
" clip-path="url(#pf161c5d38a)" style="fill: #0d0887; stroke: #0d0887; stroke-width: 0.7"/>
<path d="M 583.21 153.20 
L 622.58 238.87 
L 651.35 214.67 
L 613.10 131.02 
z
" clip-path="url(#pf161c5d38a)" style="fill: #f3f027; stroke: #f3f027; stroke-width: 0.7"/>
<path d="M 735.41 350.92 
L 773.59 363.25 
L 799.78 336.83 
L 762.11 324.98 
z
" clip-path="url(#pf161c5d38a)" style="fill: #0d0887; stroke: #0d0887; stroke-width: 0.7"/></g>
<path d="M 741.05 245.10 
L 776.45 264.71 
L 800.70 241.74 
L 765.86 217.30 
z
" clip-path="url(#pf161c5d38a)" style="fill: none; stroke: #000000; stroke-opacity: 0.5; stroke-width: 0.5"/>
<path d="M 705.64 168.54 
L 741.05 245.10 
L 765.86 217.30 
L 731.29 147.25 
z
" clip-path="url(#pf161c5d38a)" style="fill: none; stroke: #000000; stroke-opacity: 0.5; stroke-width: 0.5"/>
<path d="M 776.45 264.71 
L 812.48 276.06 
L 836.26 252.96 
L 800.70 241.74 
z
" clip-path="url(#pf161c5d38a)" style="fill: none; stroke: #000000; stroke-opacity: 0.5; stroke-width: 0.5"/>
<path d="M 669.47 89.20 
L 705.64 168.54 
L 731.29 147.25 
L 696.07 69.47 
z
" clip-path="url(#pf161c5d38a)" style="fill: none; stroke: #000000; stroke-opacity: 0.5; stroke-width: 0.5"/>
<path d="M 812.48 276.06 
L 849.15 287.02 
L 872.45 263.52 
L 836.26 252.96 
z
" clip-path="url(#pf161c5d38a)" style="fill: none; stroke: #000000; stroke-opacity: 0.5; stroke-width: 0.5"/>
<path d="M 715.38 272.15 
L 751.28 288.56 
L 776.45 264.71 
L 741.05 245.10 
z
" clip-path="url(#pf161c5d38a)" style="fill: none; stroke: #000000; stroke-opacity: 0.5; stroke-width: 0.5"/>
<path d="M 679.01 191.09 
L 715.38 272.15 
L 741.05 245.10 
L 705.64 168.54 
z
" clip-path="url(#pf161c5d38a)" style="fill: none; stroke: #000000; stroke-opacity: 0.5; stroke-width: 0.5"/>
<path d="M 751.28 288.56 
L 787.78 300.04 
L 812.48 276.06 
L 776.45 264.71 
z
" clip-path="url(#pf161c5d38a)" style="fill: none; stroke: #000000; stroke-opacity: 0.5; stroke-width: 0.5"/>
<path d="M 641.84 109.70 
L 679.01 191.09 
L 705.64 168.54 
L 669.47 89.20 
z
" clip-path="url(#pf161c5d38a)" style="fill: none; stroke: #000000; stroke-opacity: 0.5; stroke-width: 0.5"/>
<path d="M 702.21 287.19 
L 738.33 300.98 
L 751.28 288.56 
L 715.38 272.15 
z
" clip-path="url(#pf161c5d38a)" style="fill: none; stroke: #000000; stroke-opacity: 0.5; stroke-width: 0.5"/>
<path d="M 665.31 202.77 
L 702.21 287.19 
L 715.38 272.15 
L 679.01 191.09 
z
" clip-path="url(#pf161c5d38a)" style="fill: none; stroke: #000000; stroke-opacity: 0.5; stroke-width: 0.5"/>
<path d="M 787.78 300.04 
L 824.95 311.44 
L 849.15 287.02 
L 812.48 276.06 
z
" clip-path="url(#pf161c5d38a)" style="fill: none; stroke: #000000; stroke-opacity: 0.5; stroke-width: 0.5"/>
<path d="M 738.33 300.98 
L 775.07 312.39 
L 787.78 300.04 
L 751.28 288.56 
z
" clip-path="url(#pf161c5d38a)" style="fill: none; stroke: #000000; stroke-opacity: 0.5; stroke-width: 0.5"/>
<path d="M 688.78 300.47 
L 725.12 313.34 
L 738.33 300.98 
L 702.21 287.19 
z
" clip-path="url(#pf161c5d38a)" style="fill: none; stroke: #000000; stroke-opacity: 0.5; stroke-width: 0.5"/>
<path d="M 651.35 214.67 
L 688.78 300.47 
L 702.21 287.19 
L 665.31 202.77 
z
" clip-path="url(#pf161c5d38a)" style="fill: none; stroke: #000000; stroke-opacity: 0.5; stroke-width: 0.5"/>
<path d="M 627.61 120.26 
L 665.31 202.77 
L 679.01 191.09 
L 641.84 109.70 
z
" clip-path="url(#pf161c5d38a)" style="fill: none; stroke: #000000; stroke-opacity: 0.5; stroke-width: 0.5"/>
<path d="M 775.07 312.39 
L 812.49 324.01 
L 824.95 311.44 
L 787.78 300.04 
z
" clip-path="url(#pf161c5d38a)" style="fill: none; stroke: #000000; stroke-opacity: 0.5; stroke-width: 0.5"/>
<path d="M 725.12 313.34 
L 762.11 324.98 
L 775.07 312.39 
L 738.33 300.98 
z
" clip-path="url(#pf161c5d38a)" style="fill: none; stroke: #000000; stroke-opacity: 0.5; stroke-width: 0.5"/>
<path d="M 613.10 131.02 
L 651.35 214.67 
L 665.31 202.77 
L 627.61 120.26 
z
" clip-path="url(#pf161c5d38a)" style="fill: none; stroke: #000000; stroke-opacity: 0.5; stroke-width: 0.5"/>
<path d="M 661.13 326.92 
L 697.93 338.81 
L 725.12 313.34 
L 688.78 300.47 
z
" clip-path="url(#pf161c5d38a)" style="fill: none; stroke: #000000; stroke-opacity: 0.5; stroke-width: 0.5"/>
<path d="M 622.58 238.87 
L 661.13 326.92 
L 688.78 300.47 
L 651.35 214.67 
z
" clip-path="url(#pf161c5d38a)" style="fill: none; stroke: #000000; stroke-opacity: 0.5; stroke-width: 0.5"/>
<path d="M 762.11 324.98 
L 799.78 336.83 
L 812.49 324.01 
L 775.07 312.39 
z
" clip-path="url(#pf161c5d38a)" style="fill: none; stroke: #000000; stroke-opacity: 0.5; stroke-width: 0.5"/>
<path d="M 697.93 338.81 
L 735.41 350.92 
L 762.11 324.98 
L 725.12 313.34 
z
" clip-path="url(#pf161c5d38a)" style="fill: none; stroke: #000000; stroke-opacity: 0.5; stroke-width: 0.5"/>
<path d="M 583.21 153.20 
L 622.58 238.87 
L 651.35 214.67 
L 613.10 131.02 
z
" clip-path="url(#pf161c5d38a)" style="fill: none; stroke: #000000; stroke-opacity: 0.5; stroke-width: 0.5"/>
<path d="M 735.41 350.92 
L 773.59 363.25 
L 799.78 336.83 
L 762.11 324.98 
z
" clip-path="url(#pf161c5d38a)" style="fill: none; stroke: #000000; stroke-opacity: 0.5; stroke-width: 0.5"/></g>
</g>
<g id="axes_4">
<g id="patch_12">
<path d="M 967.42 323.63 
L 989.24 323.63 
L 989.24 106.81 
L 967.42 106.81 
z
" style="fill: #ffffff"/>
</g>
<rect x="967.42" y="106.81" width="21.81" height="216.81" fill="url(#plasma)"/>
<g id="matplotlib.axis_3"/>
<g id="matplotlib.axis_4">
<g id="ytick_9">
<g id="line2d_56">
<g>
<use href="#mfd3b07771e" x="989.24" y="323.63" style="stroke: #000000; stroke-width: 1.1"/>
</g>
</g>
<g id="text_50">
<text style="font-size: 10px; font-family: 'DejaVu Sans', sans-serif; text-anchor: start" x="997.64" y="327.43">0.0</text>
</g>
</g>
<g id="ytick_10">
<g id="line2d_57">
<g>
<use href="#mfd3b07771e" x="989.24" y="295.71" style="stroke: #000000; stroke-width: 1.1"/>
</g>
</g>
<g id="text_51">
<text style="font-size: 10px; font-family: 'DejaVu Sans', sans-serif; text-anchor: start" x="997.64" y="299.51">0.1</text>
</g>
</g>
<g id="ytick_11">
<g id="line2d_58">
<g>
<use href="#mfd3b07771e" x="989.24" y="267.79" style="stroke: #000000; stroke-width: 1.1"/>
</g>
</g>
<g id="text_52">
<text style="font-size: 10px; font-family: 'DejaVu Sans', sans-serif; text-anchor: start" x="997.64" y="271.59">0.2</text>
</g>
</g>
<g id="ytick_12">
<g id="line2d_59">
<g>
<use href="#mfd3b07771e" x="989.24" y="239.86" style="stroke: #000000; stroke-width: 1.1"/>
</g>
</g>
<g id="text_53">
<text style="font-size: 10px; font-family: 'DejaVu Sans', sans-serif; text-anchor: start" x="997.64" y="243.66">0.3</text>
</g>
</g>
<g id="ytick_13">
<g id="line2d_60">
<g>
<use href="#mfd3b07771e" x="989.24" y="211.94" style="stroke: #000000; stroke-width: 1.1"/>
</g>
</g>
<g id="text_54">
<text style="font-size: 10px; font-family: 'DejaVu Sans', sans-serif; text-anchor: start" x="997.64" y="215.74">0.4</text>
</g>
</g>
<g id="ytick_14">
<g id="line2d_61">
<g>
<use href="#mfd3b07771e" x="989.24" y="184.02" style="stroke: #000000; stroke-width: 1.1"/>
</g>
</g>
<g id="text_55">
<text style="font-size: 10px; font-family: 'DejaVu Sans', sans-serif; text-anchor: start" x="997.64" y="187.82">0.5</text>
</g>
</g>
<g id="ytick_15">
<g id="line2d_62">
<g>
<use href="#mfd3b07771e" x="989.24" y="156.10" style="stroke: #000000; stroke-width: 1.1"/>
</g>
</g>
<g id="text_56">
<text style="font-size: 10px; font-family: 'DejaVu Sans', sans-serif; text-anchor: start" x="997.64" y="159.90">0.6</text>
</g>
</g>
<g id="ytick_16">
<g id="line2d_63">
<g>
<use href="#mfd3b07771e" x="989.24" y="128.17" style="stroke: #000000; stroke-width: 1.1"/>
</g>
</g>
<g id="text_57">
<text style="font-size: 10px; font-family: 'DejaVu Sans', sans-serif; text-anchor: start" x="997.64" y="131.97">0.7</text>
</g>
</g>
</g>
<g id="LineCollection_2"/>
<g id="patch_13">
<path d="M 967.42 323.63 
L 978.33 323.63 
L 989.24 323.63 
L 989.24 106.81 
L 978.33 106.81 
L 967.42 106.81 
L 967.42 323.63 
z
" style="fill: none; stroke: #000000; stroke-width: 1.3; stroke-linejoin: miter; stroke-linecap: square"/>
</g>
</g>
<g id="patch_14">
<path d="M 284.62 829.01 
L 661.13 829.01 
L 661.13 452.5 
L 284.62 452.5 
z
" style="fill: #ffffff"/>
</g>
<g id="pane3d_7">
<g id="patch_15">
<path d="M 313.05 736.17 
L 437.38 631.95 
L 435.65 481.64 
L 305.37 576.72 
" style="fill: #f2f2f2; opacity: 0.5; stroke: #f2f2f2; stroke-linejoin: miter"/>
</g>
</g>
<g id="pane3d_8">
<g id="patch_16">
<path d="M 437.38 631.95 
L 636.90 689.94 
L 644.02 534.46 
L 435.65 481.64 
" style="fill: #e6e6e6; opacity: 0.5; stroke: #e6e6e6; stroke-linejoin: miter"/>
</g>
</g>
<g id="pane3d_9">
<g id="patch_17">
<path d="M 313.05 736.17 
L 524.54 805.25 
L 636.90 689.94 
L 437.38 631.95 
" style="fill: #ececec; opacity: 0.5; stroke: #ececec; stroke-linejoin: miter"/>
</g>
</g>
<g id="grid3d_7">
<g id="Line3DCollection_7">
<path d="M 330.76 741.96 
L 454.16 636.83 
L 453.14 486.08 
" style="fill: none; stroke: #aaaaaa; stroke-width: 1.25"/>
<path d="M 355.45 750.02 
L 477.53 643.62 
L 477.51 492.25 
" style="fill: none; stroke: #aaaaaa; stroke-width: 1.25"/>
<path d="M 380.46 758.19 
L 501.17 650.49 
L 502.17 498.51 
" style="fill: none; stroke: #aaaaaa; stroke-width: 1.25"/>
<path d="M 405.79 766.46 
L 525.09 657.44 
L 527.14 504.83 
" style="fill: none; stroke: #aaaaaa; stroke-width: 1.25"/>
<path d="M 431.44 774.84 
L 549.29 664.48 
L 552.41 511.24 
" style="fill: none; stroke: #aaaaaa; stroke-width: 1.25"/>
<path d="M 457.42 783.33 
L 573.77 671.59 
L 577.99 517.72 
" style="fill: none; stroke: #aaaaaa; stroke-width: 1.25"/>
<path d="M 483.74 791.92 
L 598.55 678.79 
L 603.90 524.29 
" style="fill: none; stroke: #aaaaaa; stroke-width: 1.25"/>
<path d="M 510.40 800.63 
L 623.62 686.08 
L 630.12 530.94 
" style="fill: none; stroke: #aaaaaa; stroke-width: 1.25"/>
</g>
</g>
<g id="grid3d_8">
<g id="Line3DCollection_8">
<path d="M 314.38 570.15 
L 321.61 728.99 
L 532.32 797.27 
" style="fill: none; stroke: #aaaaaa; stroke-width: 1.25"/>
<path d="M 329.58 559.05 
L 336.08 716.87 
L 545.43 783.81 
" style="fill: none; stroke: #aaaaaa; stroke-width: 1.25"/>
<path d="M 344.48 548.18 
L 350.27 704.97 
L 558.29 770.62 
" style="fill: none; stroke: #aaaaaa; stroke-width: 1.25"/>
<path d="M 359.09 537.52 
L 364.20 693.30 
L 570.89 757.69 
" style="fill: none; stroke: #aaaaaa; stroke-width: 1.25"/>
<path d="M 373.41 527.07 
L 377.86 681.84 
L 583.24 745.01 
" style="fill: none; stroke: #aaaaaa; stroke-width: 1.25"/>
<path d="M 387.46 516.82 
L 391.28 670.60 
L 595.35 732.58 
" style="fill: none; stroke: #aaaaaa; stroke-width: 1.25"/>
<path d="M 401.24 506.76 
L 404.45 659.56 
L 607.23 720.39 
" style="fill: none; stroke: #aaaaaa; stroke-width: 1.25"/>
<path d="M 414.76 496.89 
L 417.38 648.72 
L 618.89 708.43 
" style="fill: none; stroke: #aaaaaa; stroke-width: 1.25"/>
<path d="M 428.03 487.21 
L 430.08 638.07 
L 630.33 696.69 
" style="fill: none; stroke: #aaaaaa; stroke-width: 1.25"/>
</g>
</g>
<g id="grid3d_9">
<g id="Line3DCollection_9">
<path d="M 637.08 686.14 
L 437.34 628.26 
L 312.86 732.28 
" style="fill: none; stroke: #aaaaaa; stroke-width: 1.25"/>
<path d="M 638.38 657.69 
L 437.02 600.72 
L 311.45 703.14 
" style="fill: none; stroke: #aaaaaa; stroke-width: 1.25"/>
<path d="M 639.70 628.77 
L 436.70 572.73 
L 310.03 673.50 
" style="fill: none; stroke: #aaaaaa; stroke-width: 1.25"/>
<path d="M 641.05 599.36 
L 436.38 544.31 
L 308.58 643.35 
" style="fill: none; stroke: #aaaaaa; stroke-width: 1.25"/>
<path d="M 642.42 569.47 
L 436.04 515.43 
L 307.10 612.67 
" style="fill: none; stroke: #aaaaaa; stroke-width: 1.25"/>
<path d="M 643.81 539.06 
L 435.71 486.09 
L 305.59 581.45 
" style="fill: none; stroke: #aaaaaa; stroke-width: 1.25"/>
</g>
</g>
<g id="axis3d_7">
<g id="line2d_64">
<path d="M 313.05 736.17 
L 524.54 805.25 
" style="fill: none; stroke: #000000; stroke-width: 1.5; stroke-linecap: square"/>
</g>
<g id="xtick_42">
<g id="line2d_65">
<path d="M 331.83 741.04 
L 328.60 743.79 
" style="fill: none; stroke: #000000; stroke-width: 1.2; stroke-linecap: square"/>
</g>
<g id="text_58">
<text style="font-size: 10px; font-family: 'DejaVu Sans', sans-serif; text-anchor: middle" x="321.34" y="769.25">0.25</text>
</g>
</g>
<g id="xtick_43">
<g id="line2d_66">
<path d="M 356.52 749.10 
L 353.32 751.88 
" style="fill: none; stroke: #000000; stroke-width: 1.2; stroke-linecap: square"/>
</g>
<g id="text_59">
<text style="font-size: 10px; font-family: 'DejaVu Sans', sans-serif; text-anchor: middle" x="346.05" y="777.47">0.50</text>
</g>
</g>
<g id="xtick_44">
<g id="line2d_67">
<path d="M 381.51 757.25 
L 378.35 760.07 
" style="fill: none; stroke: #000000; stroke-width: 1.2; stroke-linecap: square"/>
</g>
<g id="text_60">
<text style="font-size: 10px; font-family: 'DejaVu Sans', sans-serif; text-anchor: middle" x="371.09" y="785.79">0.75</text>
</g>
</g>
<g id="xtick_45">
<g id="line2d_68">
<path d="M 406.83 765.51 
L 403.70 768.37 
" style="fill: none; stroke: #000000; stroke-width: 1.2; stroke-linecap: square"/>
</g>
<g id="text_61">
<text style="font-size: 10px; font-family: 'DejaVu Sans', sans-serif; text-anchor: middle" x="396.44" y="794.22">1.00</text>
</g>
</g>
<g id="xtick_46">
<g id="line2d_69">
<path d="M 432.47 773.88 
L 429.38 776.77 
" style="fill: none; stroke: #000000; stroke-width: 1.2; stroke-linecap: square"/>
</g>
<g id="text_62">
<text style="font-size: 10px; font-family: 'DejaVu Sans', sans-serif; text-anchor: middle" x="422.12" y="802.75">1.25</text>
</g>
</g>
<g id="xtick_47">
<g id="line2d_70">
<path d="M 458.44 782.35 
L 455.38 785.28 
" style="fill: none; stroke: #000000; stroke-width: 1.2; stroke-linecap: square"/>
</g>
<g id="text_63">
<text style="font-size: 10px; font-family: 'DejaVu Sans', sans-serif; text-anchor: middle" x="448.13" y="811.40">1.50</text>
</g>
</g>
<g id="xtick_48">
<g id="line2d_71">
<path d="M 484.74 790.93 
L 481.73 793.90 
" style="fill: none; stroke: #000000; stroke-width: 1.2; stroke-linecap: square"/>
</g>
<g id="text_64">
<text style="font-size: 10px; font-family: 'DejaVu Sans', sans-serif; text-anchor: middle" x="474.48" y="820.16">1.75</text>
</g>
</g>
<g id="xtick_49">
<g id="line2d_72">
<path d="M 511.39 799.63 
L 508.42 802.64 
" style="fill: none; stroke: #000000; stroke-width: 1.2; stroke-linecap: square"/>
</g>
<g id="text_65">
<text style="font-size: 10px; font-family: 'DejaVu Sans', sans-serif; text-anchor: middle" x="501.17" y="829.03">2.00</text>
</g>
</g>
</g>
<g id="axis3d_8">
<g id="line2d_73">
<path d="M 636.90 689.94 
L 524.54 805.25 
" style="fill: none; stroke: #000000; stroke-width: 1.5; stroke-linecap: square"/>
</g>
<g id="xtick_50">
<g id="line2d_74">
<path d="M 530.54 796.70 
L 535.87 798.42 
" style="fill: none; stroke: #000000; stroke-width: 1.2; stroke-linecap: square"/>
</g>
<g id="text_66">
<text style="font-size: 10px; font-family: 'DejaVu Sans', sans-serif; text-anchor: middle" x="548.45" y="821.68">0.50</text>
</g>
</g>
<g id="xtick_51">
<g id="line2d_75">
<path d="M 543.67 783.25 
L 548.96 784.94 
" style="fill: none; stroke: #000000; stroke-width: 1.2; stroke-linecap: square"/>
</g>
<g id="text_67">
<text style="font-size: 10px; font-family: 'DejaVu Sans', sans-serif; text-anchor: middle" x="561.41" y="808.04">0.75</text>
</g>
</g>
<g id="xtick_52">
<g id="line2d_76">
<path d="M 556.54 770.07 
L 561.79 771.73 
" style="fill: none; stroke: #000000; stroke-width: 1.2; stroke-linecap: square"/>
</g>
<g id="text_68">
<text style="font-size: 10px; font-family: 'DejaVu Sans', sans-serif; text-anchor: middle" x="574.11" y="794.68">1.00</text>
</g>
</g>
<g id="xtick_53">
<g id="line2d_77">
<path d="M 569.15 757.15 
L 574.37 758.78 
" style="fill: none; stroke: #000000; stroke-width: 1.2; stroke-linecap: square"/>
</g>
<g id="text_69">
<text style="font-size: 10px; font-family: 'DejaVu Sans', sans-serif; text-anchor: middle" x="586.56" y="781.58">1.25</text>
</g>
</g>
<g id="xtick_54">
<g id="line2d_78">
<path d="M 581.51 744.48 
L 586.70 746.08 
" style="fill: none; stroke: #000000; stroke-width: 1.2; stroke-linecap: square"/>
</g>
<g id="text_70">
<text style="font-size: 10px; font-family: 'DejaVu Sans', sans-serif; text-anchor: middle" x="598.76" y="768.73">1.50</text>
</g>
</g>
<g id="xtick_55">
<g id="line2d_79">
<path d="M 593.64 732.06 
L 598.79 733.62 
" style="fill: none; stroke: #000000; stroke-width: 1.2; stroke-linecap: square"/>
</g>
<g id="text_71">
<text style="font-size: 10px; font-family: 'DejaVu Sans', sans-serif; text-anchor: middle" x="610.73" y="756.14">1.75</text>
</g>
</g>
<g id="xtick_56">
<g id="line2d_80">
<path d="M 605.53 719.88 
L 610.65 721.41 
" style="fill: none; stroke: #000000; stroke-width: 1.2; stroke-linecap: square"/>
</g>
<g id="text_72">
<text style="font-size: 10px; font-family: 'DejaVu Sans', sans-serif; text-anchor: middle" x="622.47" y="743.79">2.00</text>
</g>
</g>
<g id="xtick_57">
<g id="line2d_81">
<path d="M 617.20 707.92 
L 622.28 709.43 
" style="fill: none; stroke: #000000; stroke-width: 1.2; stroke-linecap: square"/>
</g>
<g id="text_73">
<text style="font-size: 10px; font-family: 'DejaVu Sans', sans-serif; text-anchor: middle" x="633.99" y="731.67">2.25</text>
</g>
</g>
<g id="xtick_58">
<g id="line2d_82">
<path d="M 628.65 696.20 
L 633.69 697.67 
" style="fill: none; stroke: #000000; stroke-width: 1.2; stroke-linecap: square"/>
</g>
<g id="text_74">
<text style="font-size: 10px; font-family: 'DejaVu Sans', sans-serif; text-anchor: middle" x="645.29" y="719.78">2.50</text>
</g>
</g>
</g>
<g id="axis3d_9">
<g id="line2d_83">
<path d="M 636.90 689.94 
L 644.02 534.46 
" style="fill: none; stroke: #000000; stroke-width: 1.5; stroke-linecap: square"/>
</g>
<g id="xtick_59">
<g id="line2d_84">
<path d="M 635.40 685.65 
L 640.43 687.11 
" style="fill: none; stroke: #000000; stroke-width: 1.2; stroke-linecap: square"/>
</g>
<g id="text_75">
<text style="font-size: 10px; font-family: 'DejaVu Sans', sans-serif; text-anchor: middle" x="659.96" y="690.48">0.0</text>
</g>
</g>
<g id="xtick_60">
<g id="line2d_85">
<path d="M 636.69 657.21 
L 641.76 658.64 
" style="fill: none; stroke: #000000; stroke-width: 1.2; stroke-linecap: square"/>
</g>
<g id="text_76">
<text style="font-size: 10px; font-family: 'DejaVu Sans', sans-serif; text-anchor: middle" x="661.44" y="662.08">0.2</text>
</g>
</g>
<g id="xtick_61">
<g id="line2d_86">
<path d="M 638.00 628.29 
L 643.12 629.71 
" style="fill: none; stroke: #000000; stroke-width: 1.2; stroke-linecap: square"/>
</g>
<g id="text_77">
<text style="font-size: 10px; font-family: 'DejaVu Sans', sans-serif; text-anchor: middle" x="662.95" y="633.21">0.4</text>
</g>
</g>
<g id="xtick_62">
<g id="line2d_87">
<path d="M 639.33 598.90 
L 644.49 600.29 
" style="fill: none; stroke: #000000; stroke-width: 1.2; stroke-linecap: square"/>
</g>
<g id="text_78">
<text style="font-size: 10px; font-family: 'DejaVu Sans', sans-serif; text-anchor: middle" x="664.49" y="603.86">0.6</text>
</g>
</g>
<g id="xtick_63">
<g id="line2d_88">
<path d="M 640.68 569.01 
L 645.89 570.38 
" style="fill: none; stroke: #000000; stroke-width: 1.2; stroke-linecap: square"/>
</g>
<g id="text_79">
<text style="font-size: 10px; font-family: 'DejaVu Sans', sans-serif; text-anchor: middle" x="666.05" y="574.02">0.8</text>
</g>
</g>
<g id="xtick_64">
<g id="line2d_89">
<path d="M 642.06 538.62 
L 647.31 539.96 
" style="fill: none; stroke: #000000; stroke-width: 1.2; stroke-linecap: square"/>
</g>
<g id="text_80">
<text style="font-size: 10px; font-family: 'DejaVu Sans', sans-serif; text-anchor: middle" x="667.64" y="543.68">1.0</text>
</g>
</g>
</g>
<g id="axes_5">
<g id="Poly3DCollection_3"><g opacity="0.87"><path d="M 454.74 667.52 
L 474.06 676.09 
L 498.89 653.91 
L 479.82 645.03 
z
" clip-path="url(#pca8ac50ec6)" style="fill: #19068c; stroke: #19068c; stroke-width: 0.7"/>
<path d="M 474.06 676.09 
L 493.55 682.48 
L 518.13 660.08 
L 498.89 653.91 
z
" clip-path="url(#pca8ac50ec6)" style="fill: #0d0887; stroke: #0d0887; stroke-width: 0.7"/>
<path d="M 434.70 587.87 
L 454.74 667.52 
L 479.82 645.03 
L 460.55 563.60 
z
" clip-path="url(#pca8ac50ec6)" style="fill: #a82296; stroke: #a82296; stroke-width: 0.7"/>
<path d="M 428.70 690.15 
L 448.29 699.11 
L 474.06 676.09 
L 454.74 667.52 
z
" clip-path="url(#pca8ac50ec6)" style="fill: #19068c; stroke: #19068c; stroke-width: 0.7"/>
<path d="M 493.55 682.48 
L 593.85 712.48 
L 617.15 688.97 
L 518.13 660.08 
z
" clip-path="url(#pca8ac50ec6)" style="fill: #0d0887; stroke: #0d0887; stroke-width: 0.7"/>
<path d="M 414.17 514.66 
L 434.70 587.87 
L 460.55 563.60 
L 440.77 494.92 
z
" clip-path="url(#pca8ac50ec6)" style="fill: #f0f724; stroke: #f0f724; stroke-width: 0.7"/>
<path d="M 448.29 699.11 
L 468.02 705.73 
L 493.55 682.48 
L 474.06 676.09 
z
" clip-path="url(#pca8ac50ec6)" style="fill: #0d0887; stroke: #0d0887; stroke-width: 0.7"/>
<path d="M 407.91 612.29 
L 428.70 690.15 
L 454.74 667.52 
L 434.70 587.87 
z
" clip-path="url(#pca8ac50ec6)" style="fill: #a31e9a; stroke: #a31e9a; stroke-width: 0.7"/>
<path d="M 415.31 701.57 
L 435.03 710.81 
L 448.29 699.11 
L 428.70 690.15 
z
" clip-path="url(#pca8ac50ec6)" style="fill: #19068c; stroke: #19068c; stroke-width: 0.7"/>
<path d="M 435.03 710.81 
L 454.89 717.69 
L 468.02 705.73 
L 448.29 699.11 
z
" clip-path="url(#pca8ac50ec6)" style="fill: #0d0887; stroke: #0d0887; stroke-width: 0.7"/>
<path d="M 468.02 705.73 
L 569.64 736.89 
L 593.85 712.48 
L 493.55 682.48 
z
" clip-path="url(#pca8ac50ec6)" style="fill: #0d0887; stroke: #0d0887; stroke-width: 0.7"/>
<path d="M 394.14 624.92 
L 415.31 701.57 
L 428.70 690.15 
L 407.91 612.29 
z
" clip-path="url(#pca8ac50ec6)" style="fill: #a11b9b; stroke: #a11b9b; stroke-width: 0.7"/>
<path d="M 386.53 535.16 
L 407.91 612.29 
L 434.70 587.87 
L 414.17 514.66 
z
" clip-path="url(#pca8ac50ec6)" style="fill: #f2f227; stroke: #f2f227; stroke-width: 0.7"/>
<path d="M 401.65 713.21 
L 421.52 722.74 
L 435.03 710.81 
L 415.31 701.57 
z
" clip-path="url(#pca8ac50ec6)" style="fill: #1b068d; stroke: #1b068d; stroke-width: 0.7"/>
<path d="M 421.52 722.74 
L 441.51 729.89 
L 454.89 717.69 
L 435.03 710.81 
z
" clip-path="url(#pca8ac50ec6)" style="fill: #0d0887; stroke: #0d0887; stroke-width: 0.7"/>
<path d="M 380.12 638.00 
L 401.65 713.21 
L 415.31 701.57 
L 394.14 624.92 
z
" clip-path="url(#pca8ac50ec6)" style="fill: #9e199d; stroke: #9e199d; stroke-width: 0.7"/>
<path d="M 454.89 717.69 
L 557.18 749.46 
L 569.64 736.89 
L 468.02 705.73 
z
" clip-path="url(#pca8ac50ec6)" style="fill: #0d0887; stroke: #0d0887; stroke-width: 0.7"/>
<path d="M 372.31 545.71 
L 394.14 624.92 
L 407.91 612.29 
L 386.53 535.16 
z
" clip-path="url(#pca8ac50ec6)" style="fill: #f4ed27; stroke: #f4ed27; stroke-width: 0.7"/>
<path d="M 373.53 737.19 
L 393.68 747.29 
L 421.52 722.74 
L 401.65 713.21 
z
" clip-path="url(#pca8ac50ec6)" style="fill: #1d068e; stroke: #1d068e; stroke-width: 0.7"/>
<path d="M 393.68 747.29 
L 413.95 755.00 
L 441.51 729.89 
L 421.52 722.74 
z
" clip-path="url(#pca8ac50ec6)" style="fill: #100788; stroke: #100788; stroke-width: 0.7"/>
<path d="M 441.51 729.89 
L 544.47 762.28 
L 557.18 749.46 
L 454.89 717.69 
z
" clip-path="url(#pca8ac50ec6)" style="fill: #0d0887; stroke: #0d0887; stroke-width: 0.7"/>
<path d="M 351.26 664.08 
L 373.53 737.19 
L 401.65 713.21 
L 380.12 638.00 
z
" clip-path="url(#pca8ac50ec6)" style="fill: #9c179e; stroke: #9c179e; stroke-width: 0.7"/>
<path d="M 357.80 556.48 
L 380.12 638.00 
L 394.14 624.92 
L 372.31 545.71 
z
" clip-path="url(#pca8ac50ec6)" style="fill: #f5eb27; stroke: #f5eb27; stroke-width: 0.7"/>
<path d="M 413.95 755.00 
L 518.28 788.71 
L 544.47 762.28 
L 441.51 729.89 
z
" clip-path="url(#pca8ac50ec6)" style="fill: #0d0887; stroke: #0d0887; stroke-width: 0.7"/>
<path d="M 327.91 578.66 
L 351.26 664.08 
L 380.12 638.00 
L 357.80 556.48 
z
" clip-path="url(#pca8ac50ec6)" style="fill: #f6e626; stroke: #f6e626; stroke-width: 0.7"/></g>
<path d="M 454.74 667.52 
L 474.06 676.09 
L 498.89 653.91 
L 479.82 645.03 
z
" clip-path="url(#pca8ac50ec6)" style="fill: none; stroke: #000000; stroke-opacity: 0.5; stroke-width: 0.5"/>
<path d="M 474.06 676.09 
L 493.55 682.48 
L 518.13 660.08 
L 498.89 653.91 
z
" clip-path="url(#pca8ac50ec6)" style="fill: none; stroke: #000000; stroke-opacity: 0.5; stroke-width: 0.5"/>
<path d="M 434.70 587.87 
L 454.74 667.52 
L 479.82 645.03 
L 460.55 563.60 
z
" clip-path="url(#pca8ac50ec6)" style="fill: none; stroke: #000000; stroke-opacity: 0.5; stroke-width: 0.5"/>
<path d="M 428.70 690.15 
L 448.29 699.11 
L 474.06 676.09 
L 454.74 667.52 
z
" clip-path="url(#pca8ac50ec6)" style="fill: none; stroke: #000000; stroke-opacity: 0.5; stroke-width: 0.5"/>
<path d="M 493.55 682.48 
L 593.85 712.48 
L 617.15 688.97 
L 518.13 660.08 
z
" clip-path="url(#pca8ac50ec6)" style="fill: none; stroke: #000000; stroke-opacity: 0.5; stroke-width: 0.5"/>
<path d="M 414.17 514.66 
L 434.70 587.87 
L 460.55 563.60 
L 440.77 494.92 
z
" clip-path="url(#pca8ac50ec6)" style="fill: none; stroke: #000000; stroke-opacity: 0.5; stroke-width: 0.5"/>
<path d="M 448.29 699.11 
L 468.02 705.73 
L 493.55 682.48 
L 474.06 676.09 
z
" clip-path="url(#pca8ac50ec6)" style="fill: none; stroke: #000000; stroke-opacity: 0.5; stroke-width: 0.5"/>
<path d="M 407.91 612.29 
L 428.70 690.15 
L 454.74 667.52 
L 434.70 587.87 
z
" clip-path="url(#pca8ac50ec6)" style="fill: none; stroke: #000000; stroke-opacity: 0.5; stroke-width: 0.5"/>
<path d="M 415.31 701.57 
L 435.03 710.81 
L 448.29 699.11 
L 428.70 690.15 
z
" clip-path="url(#pca8ac50ec6)" style="fill: none; stroke: #000000; stroke-opacity: 0.5; stroke-width: 0.5"/>
<path d="M 435.03 710.81 
L 454.89 717.69 
L 468.02 705.73 
L 448.29 699.11 
z
" clip-path="url(#pca8ac50ec6)" style="fill: none; stroke: #000000; stroke-opacity: 0.5; stroke-width: 0.5"/>
<path d="M 468.02 705.73 
L 569.64 736.89 
L 593.85 712.48 
L 493.55 682.48 
z
" clip-path="url(#pca8ac50ec6)" style="fill: none; stroke: #000000; stroke-opacity: 0.5; stroke-width: 0.5"/>
<path d="M 394.14 624.92 
L 415.31 701.57 
L 428.70 690.15 
L 407.91 612.29 
z
" clip-path="url(#pca8ac50ec6)" style="fill: none; stroke: #000000; stroke-opacity: 0.5; stroke-width: 0.5"/>
<path d="M 386.53 535.16 
L 407.91 612.29 
L 434.70 587.87 
L 414.17 514.66 
z
" clip-path="url(#pca8ac50ec6)" style="fill: none; stroke: #000000; stroke-opacity: 0.5; stroke-width: 0.5"/>
<path d="M 401.65 713.21 
L 421.52 722.74 
L 435.03 710.81 
L 415.31 701.57 
z
" clip-path="url(#pca8ac50ec6)" style="fill: none; stroke: #000000; stroke-opacity: 0.5; stroke-width: 0.5"/>
<path d="M 421.52 722.74 
L 441.51 729.89 
L 454.89 717.69 
L 435.03 710.81 
z
" clip-path="url(#pca8ac50ec6)" style="fill: none; stroke: #000000; stroke-opacity: 0.5; stroke-width: 0.5"/>
<path d="M 380.12 638.00 
L 401.65 713.21 
L 415.31 701.57 
L 394.14 624.92 
z
" clip-path="url(#pca8ac50ec6)" style="fill: none; stroke: #000000; stroke-opacity: 0.5; stroke-width: 0.5"/>
<path d="M 454.89 717.69 
L 557.18 749.46 
L 569.64 736.89 
L 468.02 705.73 
z
" clip-path="url(#pca8ac50ec6)" style="fill: none; stroke: #000000; stroke-opacity: 0.5; stroke-width: 0.5"/>
<path d="M 372.31 545.71 
L 394.14 624.92 
L 407.91 612.29 
L 386.53 535.16 
z
" clip-path="url(#pca8ac50ec6)" style="fill: none; stroke: #000000; stroke-opacity: 0.5; stroke-width: 0.5"/>
<path d="M 373.53 737.19 
L 393.68 747.29 
L 421.52 722.74 
L 401.65 713.21 
z
" clip-path="url(#pca8ac50ec6)" style="fill: none; stroke: #000000; stroke-opacity: 0.5; stroke-width: 0.5"/>
<path d="M 393.68 747.29 
L 413.95 755.00 
L 441.51 729.89 
L 421.52 722.74 
z
" clip-path="url(#pca8ac50ec6)" style="fill: none; stroke: #000000; stroke-opacity: 0.5; stroke-width: 0.5"/>
<path d="M 441.51 729.89 
L 544.47 762.28 
L 557.18 749.46 
L 454.89 717.69 
z
" clip-path="url(#pca8ac50ec6)" style="fill: none; stroke: #000000; stroke-opacity: 0.5; stroke-width: 0.5"/>
<path d="M 351.26 664.08 
L 373.53 737.19 
L 401.65 713.21 
L 380.12 638.00 
z
" clip-path="url(#pca8ac50ec6)" style="fill: none; stroke: #000000; stroke-opacity: 0.5; stroke-width: 0.5"/>
<path d="M 357.80 556.48 
L 380.12 638.00 
L 394.14 624.92 
L 372.31 545.71 
z
" clip-path="url(#pca8ac50ec6)" style="fill: none; stroke: #000000; stroke-opacity: 0.5; stroke-width: 0.5"/>
<path d="M 413.95 755.00 
L 518.28 788.71 
L 544.47 762.28 
L 441.51 729.89 
z
" clip-path="url(#pca8ac50ec6)" style="fill: none; stroke: #000000; stroke-opacity: 0.5; stroke-width: 0.5"/>
<path d="M 327.91 578.66 
L 351.26 664.08 
L 380.12 638.00 
L 357.80 556.48 
z
" clip-path="url(#pca8ac50ec6)" style="fill: none; stroke: #000000; stroke-opacity: 0.5; stroke-width: 0.5"/></g>
</g>
<g id="axes_6">
<g id="patch_18">
<path d="M 711.51 748.63 
L 733.33 748.63 
L 733.33 532.12 
L 711.51 532.12 
z
" style="fill: #ffffff"/>
</g>
<rect x="711.51" y="532.12" width="21.81" height="216.51" fill="url(#plasma)"/>
<g id="matplotlib.axis_5"/>
<g id="matplotlib.axis_6">
<g id="ytick_17">
<g id="line2d_90">
<g>
<use href="#mfd3b07771e" x="733.33" y="748.63" style="stroke: #000000; stroke-width: 1.1"/>
</g>
</g>
<g id="text_81">
<text style="font-size: 10px; font-family: 'DejaVu Sans', sans-serif; text-anchor: start" x="741.73" y="752.43">0.0</text>
</g>
</g>
<g id="ytick_18">
<g id="line2d_91">
<g>
<use href="#mfd3b07771e" x="733.33" y="720.91" style="stroke: #000000; stroke-width: 1.1"/>
</g>
</g>
<g id="text_82">
<text style="font-size: 10px; font-family: 'DejaVu Sans', sans-serif; text-anchor: start" x="741.73" y="724.71">0.1</text>
</g>
</g>
<g id="ytick_19">
<g id="line2d_92">
<g>
<use href="#mfd3b07771e" x="733.33" y="693.19" style="stroke: #000000; stroke-width: 1.1"/>
</g>
</g>
<g id="text_83">
<text style="font-size: 10px; font-family: 'DejaVu Sans', sans-serif; text-anchor: start" x="741.73" y="696.98">0.2</text>
</g>
</g>
<g id="ytick_20">
<g id="line2d_93">
<g>
<use href="#mfd3b07771e" x="733.33" y="665.46" style="stroke: #000000; stroke-width: 1.1"/>
</g>
</g>
<g id="text_84">
<text style="font-size: 10px; font-family: 'DejaVu Sans', sans-serif; text-anchor: start" x="741.73" y="669.26">0.3</text>
</g>
</g>
<g id="ytick_21">
<g id="line2d_94">
<g>
<use href="#mfd3b07771e" x="733.33" y="637.74" style="stroke: #000000; stroke-width: 1.1"/>
</g>
</g>
<g id="text_85">
<text style="font-size: 10px; font-family: 'DejaVu Sans', sans-serif; text-anchor: start" x="741.73" y="641.54">0.4</text>
</g>
</g>
<g id="ytick_22">
<g id="line2d_95">
<g>
<use href="#mfd3b07771e" x="733.33" y="610.02" style="stroke: #000000; stroke-width: 1.1"/>
</g>
</g>
<g id="text_86">
<text style="font-size: 10px; font-family: 'DejaVu Sans', sans-serif; text-anchor: start" x="741.73" y="613.82">0.5</text>
</g>
</g>
<g id="ytick_23">
<g id="line2d_96">
<g>
<use href="#mfd3b07771e" x="733.33" y="582.29" style="stroke: #000000; stroke-width: 1.1"/>
</g>
</g>
<g id="text_87">
<text style="font-size: 10px; font-family: 'DejaVu Sans', sans-serif; text-anchor: start" x="741.73" y="586.09">0.6</text>
</g>
</g>
<g id="ytick_24">
<g id="line2d_97">
<g>
<use href="#mfd3b07771e" x="733.33" y="554.57" style="stroke: #000000; stroke-width: 1.1"/>
</g>
</g>
<g id="text_88">
<text style="font-size: 10px; font-family: 'DejaVu Sans', sans-serif; text-anchor: start" x="741.73" y="558.37">0.7</text>
</g>
</g>
</g>
<g id="LineCollection_3"/>
<g id="patch_19">
<path d="M 711.51 748.63 
L 722.42 748.63 
L 733.33 748.63 
L 733.33 532.12 
L 722.42 532.12 
L 711.51 532.12 
L 711.51 748.63 
z
" style="fill: none; stroke: #000000; stroke-width: 1.3; stroke-linejoin: miter; stroke-linecap: square"/>
</g>
</g>
</g>
<defs>
<clipPath id="p76bec759b3">
<rect x="3.10" y="27.04" width="376.51" height="376.51"/>
</clipPath>
<clipPath id="pf161c5d38a">
<rect x="539.92" y="27.04" width="376.51" height="376.51"/>
</clipPath>
<clipPath id="pca8ac50ec6">
<rect x="284.62" y="452.5" width="376.51" height="376.51"/>
</clipPath>
</defs>
</svg>

<svg width="685" height="551" viewBox="0 0 685 551" style="position:absolute;left:0;top:0" font-family="'Liberation Serif', 'Times New Roman', serif" fill="#000" stroke="#000" stroke-width="0.22">
<text y="9.6" font-size="12.2" xml:space="preserve"><tspan x="1.3" letter-spacing="0.05">Partial</tspan> <tspan x="39.8" letter-spacing="0.28">Dependence</tspan> <tspan x="108.0" letter-spacing="0.05">of</tspan> <tspan x="122.0" font-style="italic" font-size="12.6" letter-spacing="0.7">PF</tspan> <tspan x="143.0" letter-spacing="0.05">on</tspan> <tspan x="158.6" font-style="italic" font-size="12.6" letter-spacing="0.7">COV</tspan> <tspan x="189.0" letter-spacing="0.05">and</tspan> <tspan x="210.8" font-style="italic" font-size="12.6" letter-spacing="0.7">SCLR</tspan></text>
<text y="9.7" font-size="12.2" xml:space="preserve"><tspan x="358.3" letter-spacing="0.05">Partial</tspan> <tspan x="396.8" letter-spacing="0.28">Dependence</tspan> <tspan x="465.0" letter-spacing="0.05">of</tspan> <tspan x="479.0" font-style="italic" font-size="12.6" letter-spacing="0.7">PF</tspan> <tspan x="500.0" letter-spacing="0.05">on</tspan> <tspan x="515.6" font-style="italic" font-size="12.6" letter-spacing="0.7">COV</tspan> <tspan x="546.0" letter-spacing="0.05">and</tspan> <tspan x="567.8" font-style="italic" font-size="12.6" letter-spacing="0.7">FoS</tspan></text>
<text y="290.5" font-size="12.2" xml:space="preserve"><tspan x="184.2" letter-spacing="0.05">Partial</tspan> <tspan x="223.8" letter-spacing="0.28">Dependence</tspan> <tspan x="292.4" letter-spacing="0.05">of</tspan> <tspan x="306.7" font-style="italic" font-size="12.6" letter-spacing="0.7">PF</tspan> <tspan x="327.0" letter-spacing="0.05">on</tspan> <tspan x="342.8" font-style="italic" font-size="12.6" letter-spacing="0.7">SCLR</tspan> <tspan x="377.8" letter-spacing="0.05">and</tspan> <tspan x="399.5" font-style="italic" font-size="12.6" letter-spacing="0.7">FoS</tspan></text>
<text x="61.4" y="267.0" font-size="11.1" font-style="italic" letter-spacing="-0.10">COV</text>
<text x="214.5" y="244.3" font-size="11.1" font-style="italic" letter-spacing="-0.10">SCLR</text>
<text x="268.4" y="121.7" font-size="11.1" font-style="italic" letter-spacing="0.15">PF</text>
<text x="414.5" y="267.0" font-size="11.1" font-style="italic" letter-spacing="-0.10">COV</text>
<text x="567.3" y="244.6" font-size="11.1" font-style="italic" letter-spacing="0.30">FoS</text>
<text x="623.1" y="121.7" font-size="11.1" font-style="italic" letter-spacing="0.15">PF</text>
<text x="245.0" y="550.3" font-size="11.1" font-style="italic" letter-spacing="-0.10">SCLR</text>
<text x="402.2" y="523.1" font-size="11.1" font-style="italic" letter-spacing="0.30">FoS</text>
<text x="454.2" y="405.2" font-size="11.1" font-style="italic" letter-spacing="0.15">PF</text>
<text transform="translate(334.7,198.4) rotate(-90)" font-size="10.6" xml:space="preserve"><tspan x="0">Partial</tspan> <tspan x="31.8">Dependence</tspan> <tspan x="88.9">(</tspan><tspan font-style="italic" letter-spacing="0.3">PF</tspan>)</text>
<text transform="translate(681.3,198.0) rotate(-90)" font-size="10.6" xml:space="preserve"><tspan x="0">Partial</tspan> <tspan x="31.8">Dependence</tspan> <tspan x="88.9">(</tspan><tspan font-style="italic" letter-spacing="0.3">PF</tspan>)</text>
<text transform="translate(513.0,476.7) rotate(-90)" font-size="10.6" xml:space="preserve"><tspan x="0">Partial</tspan> <tspan x="31.8">Dependence</tspan> <tspan x="88.9">(</tspan><tspan font-style="italic" letter-spacing="0.3">PF</tspan>)</text>
</svg>
</body></html>
